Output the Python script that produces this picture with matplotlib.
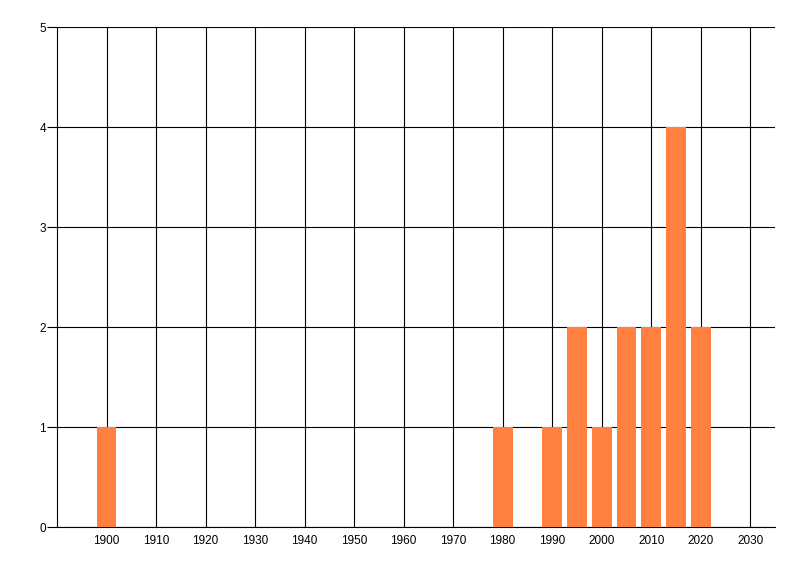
import matplotlib
matplotlib.use("Agg")
import matplotlib.pyplot as plt

plt.rcParams["font.family"] = ["Liberation Sans", "DejaVu Sans"]

years = [1900, 1980, 1990, 1995, 2000, 2005, 2010, 2015, 2020]
counts = [1, 1, 1, 2, 1, 2, 2, 4, 2]
xticks = list(range(1900, 2031, 10))
yticks = [0, 1, 2, 3, 4, 5]

fig = plt.figure(figsize=(8, 5.76), dpi=100)
ax = fig.add_axes([57 / 800, 1 - 527 / 576, (775 - 57) / 800, 500 / 576])

ax.bar(years, counts, width=4, color="#ff8040", zorder=3)

ax.set_xlim(1890, 2035)
ax.set_ylim(0, 5)
ax.set_xticks(xticks)
ax.set_yticks(yticks)
ax.grid(True, color="black", linewidth=0.8, zorder=0)
ax.set_axisbelow(True)

for side in ["top", "right"]:
    ax.spines[side].set_visible(False)
for side in ["left", "bottom"]:
    ax.spines[side].set_linewidth(0.8)

ax.tick_params(axis="x", length=0, labelsize=8.5, pad=6)
ax.tick_params(axis="y", length=7, width=0.8, labelsize=8.5, pad=1)

fig.savefig("out.png", dpi=100)
